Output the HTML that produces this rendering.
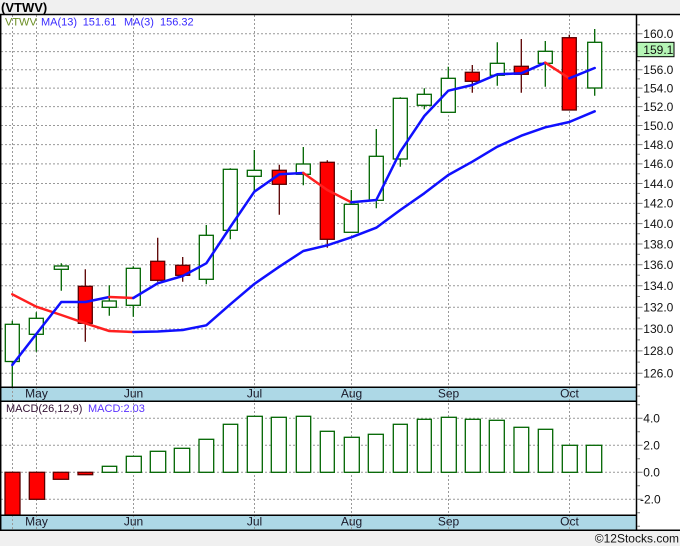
<!DOCTYPE html>
<html><head><meta charset="utf-8"><style>html,body{margin:0;padding:0;background:#fff}svg{display:block}</style></head>
<body>
<svg xmlns="http://www.w3.org/2000/svg" width="680" height="546" viewBox="0 0 680 546" font-family="'Liberation Sans', 'DejaVu Sans', sans-serif">
<rect x="0" y="0" width="680" height="546" fill="#fff"/>
<rect x="0" y="0" width="680" height="14" fill="#f0f0f0"/>
<text x="1" y="12" font-size="13" font-weight="bold" fill="#000">(VTWV)</text>
<rect x="0" y="530" width="680" height="16" fill="#f0f0f0"/>
<text x="679" y="542.5" font-size="12" text-anchor="end" fill="#111">©12Stocks.com</text>
<rect x="0" y="387" width="636" height="14" fill="#add8e6"/>
<rect x="0" y="515" width="636" height="15" fill="#add8e6"/>

<path stroke="#999" stroke-width="1" stroke-dasharray="2 2" fill="none" d="M12.5 15V530M36.5 15V530M133.5 15V530M254.5 15V530M351.5 15V530M448.5 15V530M569.5 15V530M1 33.7H636M1 51.6H636M1 69.7H636M1 88.1H636M1 106.6H636M1 125.5H636M1 144.6H636M1 163.9H636M1 183.5H636M1 203.4H636M1 223.6H636M1 244H636M1 264.8H636M1 285.8H636M1 307.2H636M1 328.9H636M1 350.9H636M1 373.3H636M1 418.3H636M1 445.3H636M1 472.3H636M1 499.3H636"/>

<g font-size="12" fill="#1a1a2a" text-anchor="middle">
<text x="36.5" y="397.5">May</text><text x="133.5" y="397.5">Jun</text><text x="254.5" y="397.5">Jul</text><text x="351.5" y="397.5">Aug</text><text x="448.5" y="397.5">Sep</text><text x="569.5" y="397.5">Oct</text>
<text x="36.5" y="525.5">May</text><text x="133.5" y="525.5">Jun</text><text x="254.5" y="525.5">Jul</text><text x="351.5" y="525.5">Aug</text><text x="448.5" y="525.5">Sep</text><text x="569.5" y="525.5">Oct</text>
</g>

<path stroke="#006400" stroke-width="1.3" fill="none" d="M12.3 320.7V387M36.3 312.3V351.7M61.3 263.3V290.7M109.3 285.3V315.7M133.3 266.3V316.7M206.3 225V284.3M230.3 168.3V239.3M254.3 150V191.3M303.3 147V185.3M351.3 190V232.3M376.3 129V208.3M400.3 97.3V166.7M424.3 88.3V109.3M448.3 66.7V112.3M497.3 42.3V85.7M545.3 41V86.7M594.7 29V95.7"/>
<path stroke="#5a0000" stroke-width="1.3" fill="none" d="M85.3 269.3V341.7M157.7 237.7V281.7M182.7 257V281.7M279.3 164.7V214.7M327.3 160.3V247.7M472.3 65V92.7M521.3 39V92.7M569.3 34.7V110"/>

<g stroke="#006400" stroke-width="1.3" fill="#fff">
<rect x="5.3" y="324.3" width="14" height="37.2"/>
<rect x="29.3" y="318.3" width="14" height="16"/>
<rect x="54.3" y="266" width="14" height="3.3"/>
<rect x="102.3" y="301" width="14" height="6.3"/>
<rect x="126.3" y="268.3" width="14" height="37"/>
<rect x="199.3" y="235.3" width="14" height="44"/>
<rect x="223.3" y="169.3" width="14" height="61"/>
<rect x="247.3" y="170.3" width="14" height="6"/>
<rect x="296.3" y="164" width="14" height="10.3"/>
<rect x="344.3" y="204.3" width="14" height="28"/>
<rect x="369.3" y="156.3" width="14" height="44"/>
<rect x="393.3" y="98.3" width="14" height="60.7"/>
<rect x="417.3" y="94.3" width="14" height="11"/>
<rect x="441.3" y="78.3" width="14" height="34"/>
<rect x="490.3" y="63.3" width="14" height="12"/>
<rect x="538.3" y="51.3" width="14" height="12"/>
<rect x="587.7" y="42.3" width="14" height="45.7"/>
</g>
<g stroke="#5a0000" stroke-width="1.3" fill="#ff0000">
<rect x="78.3" y="286.3" width="14" height="37"/>
<rect x="150.7" y="261.3" width="14" height="19"/>
<rect x="175.7" y="265.3" width="14" height="10"/>
<rect x="272.3" y="170.3" width="14" height="14"/>
<rect x="320.3" y="162.3" width="14" height="77"/>
<rect x="465.3" y="72.3" width="14" height="9"/>
<rect x="514.3" y="66.3" width="14" height="8"/>
<rect x="562.3" y="37.7" width="14" height="72.3"/>
</g>

<g fill="none" stroke-width="2.5" stroke-linejoin="round" stroke-linecap="round">
<polyline stroke="#ff2020" points="12.3,294.3 36.3,306.7 61.3,315 85.3,323.3 109.3,331 133.3,332"/>
<polyline stroke="#1010ff" points="133.3,332 157.7,331.5 182.7,330 206.3,325.3 230.3,304.3 254.3,284 279.3,266.7 303.3,251 327.3,245.3 351.3,237.3 376.3,227.7 400.3,210 424.3,193.3 448.3,175 472.3,161.7 497.3,146.7 521.3,135.7 545.3,127.3 569.3,122 594.7,111.3"/>
<polyline stroke="#1010ff" points="12.3,365 36.3,334 61.3,302 85.3,302 109.3,297"/>
<polyline stroke="#ff2020" points="109.3,297 133.3,298"/>
<polyline stroke="#1010ff" points="133.3,298 157.7,283.3 182.7,276 206.3,263.3 230.3,227 254.3,191.7 279.3,174.3 303.3,173"/>
<polyline stroke="#ff2020" points="303.3,173 327.3,190 351.3,202.3"/>
<polyline stroke="#1010ff" points="351.3,202.3 376.3,200 400.3,151.7 424.3,116 448.3,90.7 472.3,85 497.3,74.3 521.3,73.3 545.3,62.7"/>
<polyline stroke="#ff2020" points="545.3,62.7 569.3,78.3"/>
<polyline stroke="#1010ff" points="569.3,78.3 594.7,68"/>
</g>

<g stroke="#5a0000" stroke-width="1.3" fill="#ff0000">
<rect x="5" y="472.3" width="15" height="42.7"/>
<rect x="29.3" y="472.3" width="15.3" height="27"/>
<rect x="53.3" y="472.3" width="15.3" height="7"/>
<rect x="78" y="472.3" width="14.7" height="2.4"/>
</g>
<g stroke="#006400" stroke-width="1.3" fill="#fff">
<rect x="102.3" y="466.3" width="14.4" height="6"/>
<rect x="126.3" y="456.3" width="15" height="16"/>
<rect x="150.3" y="451.3" width="15.4" height="21"/>
<rect x="174.3" y="448.3" width="15.4" height="24"/>
<rect x="199" y="439.3" width="14.7" height="33"/>
<rect x="223.3" y="424.3" width="14.4" height="48"/>
<rect x="247.3" y="416.3" width="15" height="56"/>
<rect x="271.3" y="417.3" width="15" height="55"/>
<rect x="296.3" y="416.3" width="14.4" height="56"/>
<rect x="320.3" y="431.3" width="14" height="41"/>
<rect x="344.3" y="437.3" width="15" height="35"/>
<rect x="368.3" y="434.3" width="15" height="38"/>
<rect x="393.3" y="424.3" width="14" height="48"/>
<rect x="417.3" y="419.3" width="14" height="53"/>
<rect x="441.3" y="417.3" width="15" height="55"/>
<rect x="465.3" y="419.3" width="15" height="53"/>
<rect x="489.3" y="420.3" width="15" height="52"/>
<rect x="514" y="427.3" width="14.7" height="45"/>
<rect x="538.3" y="429.3" width="14.4" height="43"/>
<rect x="562.3" y="445.3" width="15" height="27"/>
<rect x="586.3" y="445.3" width="15.4" height="27"/>
</g>

<g font-size="11">
<text x="5" y="25.5" fill="#6b8e23">VTWV</text>
<text x="41" y="25.5" fill="#3a2bff">MA(13)</text>
<text x="82.7" y="25.5" fill="#3a2bff">151.61</text>
<text x="124" y="25.5" fill="#3a2bff">MA(3)</text>
<text x="160" y="25.5" fill="#3a2bff">156.32</text>
<text x="6" y="412" fill="#331133">MACD(26,12,9)</text>
<text x="88" y="412" fill="#5a32ff">MACD:2.03</text>
</g>

<path stroke="#000" stroke-width="1.5" fill="none" d="M0 14.5H680M0.7 14V530M636.5 14V530M0 387.2H636M0 401.2H636M0 515.2H636M0 530.2H680"/>

<path stroke="#777" stroke-width="1" fill="none" d="M637 33.7H642.5M637 51.6H642.5M637 69.7H642.5M637 88.1H642.5M637 106.6H642.5M637 125.5H642.5M637 144.6H642.5M637 163.9H642.5M637 183.5H642.5M637 203.4H642.5M637 223.6H642.5M637 244H642.5M637 264.8H642.5M637 285.8H642.5M637 307.2H642.5M637 328.9H642.5M637 350.9H642.5M637 373.3H642.5M637 24.9H640M637 42.7H640M637 60.7H640M637 78.9H640M637 97.3H640M637 116H640M637 135H640M637 154.2H640M637 173.7H640M637 193.4H640M637 213.4H640M637 233.7H640M637 254.4H640M637 275.3H640M637 296.5H640M637 318H640M637 339.9H640M637 362.1H640M637 384.7H640M637 396.1H640M637 404.8H640M637 418.3H642.5M637 431.8H640M637 445.3H642.5M637 458.8H640M637 472.3H642.5M637 485.8H640M637 499.3H642.5M637 512.8H640M637 526.3H640"/>

<g font-size="12" fill="#111">
<text x="643.3" y="38">160.0</text>
<text x="643.3" y="74">156.0</text>
<text x="643.3" y="92.4">154.0</text>
<text x="643.3" y="110.9">152.0</text>
<text x="643.3" y="129.8">150.0</text>
<text x="643.3" y="148.9">148.0</text>
<text x="643.3" y="168.2">146.0</text>
<text x="643.3" y="187.8">144.0</text>
<text x="643.3" y="207.7">142.0</text>
<text x="643.3" y="227.9">140.0</text>
<text x="643.3" y="248.3">138.0</text>
<text x="643.3" y="269.1">136.0</text>
<text x="643.3" y="290.1">134.0</text>
<text x="643.3" y="311.5">132.0</text>
<text x="643.3" y="333.2">130.0</text>
<text x="643.3" y="355.2">128.0</text>
<text x="643.3" y="377.6">126.0</text>
<text x="643.3" y="422.6">4.0</text>
<text x="643.3" y="449.6">2.0</text>
<text x="643.3" y="476.6">0.0</text>
<text x="640" y="503.6">-2.0</text>
</g>
<rect x="637" y="42.3" width="37" height="14.4" fill="#b5f5b5" stroke="#000" stroke-width="1"/>
<text x="643.3" y="54" font-size="12" fill="#111">159.1</text>
</svg>
</body></html>
